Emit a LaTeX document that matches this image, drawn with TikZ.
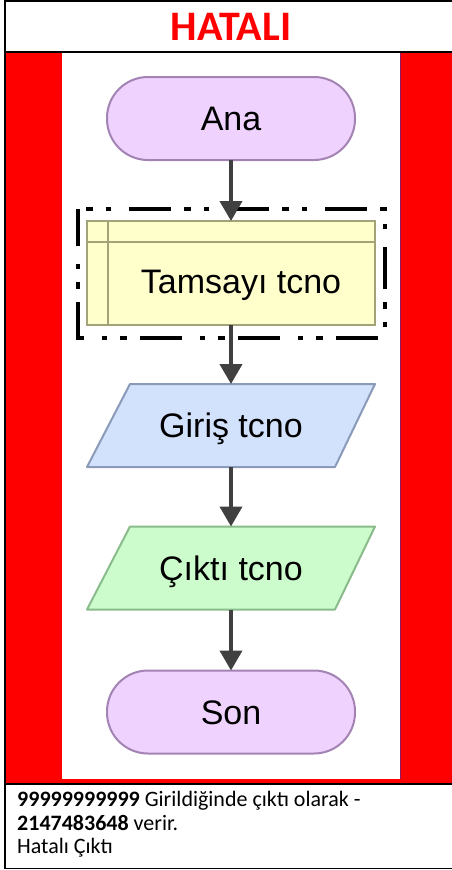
\documentclass[tikz,border=0pt]{standalone}
\usepackage{fontspec}
\setmainfont{Liberation Sans}
\newfontfamily\calibri{Carlito}
\usetikzlibrary{arrows.meta}
\pgfdeclarelayer{bg}
\pgfdeclarelayer{shp}
\pgfsetlayers{bg,shp,main}
\definecolor{pillfill}{HTML}{F0D2FE}
\definecolor{pillline}{HTML}{A383B3}
\definecolor{declfill}{HTML}{FFFFCC}
\definecolor{declline}{HTML}{A3A37A}
\definecolor{infill}{HTML}{D2E1FC}
\definecolor{inline}{HTML}{8A9BBA}
\definecolor{outfill}{HTML}{CCFCCC}
\definecolor{outline}{HTML}{8ABB8A}
\definecolor{arrowcol}{HTML}{404040}
\definecolor{edgered}{HTML}{FF0000}
\definecolor{seam}{HTML}{8B1A6B}
\tikzset{
  flowtext/.style={font=\fontsize{34}{40}\selectfont, text=black, inner sep=0pt, outer sep=0pt,
    text height=24.3pt, text depth=0pt},
  flow/.style={flowtext, line width=2pt},
  pill/.style={flow, draw=pillline, fill=pillfill, rounded corners=41pt,
    minimum width=248pt, minimum height=83pt},
  decl/.style={flow, draw=declline, fill=declfill, minimum width=288pt, minimum height=104pt},
  declrule/.style={draw=declline, line width=2pt},
  io/.style={flow, minimum width=288pt, minimum height=83pt},
  inshape/.style={draw=inline, fill=infill, line width=2pt, line join=round},
  outshape/.style={draw=outline, fill=outfill, line width=2pt, line join=round},
  flowarrow/.style={draw=arrowcol, line width=4pt, -{Triangle[width=22pt,length=20pt]}},
  dashframe/.style={draw=black, line width=4.5pt,
    dash pattern=on 42pt off 18pt on 5pt off 13pt on 7pt off 13pt, dash phase=5pt},
  borderline/.style={draw=black, line width=1.6pt},
  note/.style={font=\calibri\fontsize{22}{23.5}\selectfont, anchor=base west, inner sep=0pt}
}
\begin{document}
\begin{tikzpicture}[x=1pt,y=-1pt]
\useasboundingbox (0,0) rectangle (452,870);
\begin{pgfonlayer}{bg}
  \fill[white] (0,0) rectangle (452,870);
  \fill[edgered] (5.5,52.5) rectangle (452,783);
  \fill[white] (62,52.5) rectangle (400,779);
  \draw[seam, line width=0.7pt] (400,52.5) -- (400,779);
  \draw[borderline] (4.5,0.8) -- (452,0.8);
  \draw[borderline] (4.5,52) -- (452,52);
  \draw[borderline] (4.5,784) -- (452,784);
  \draw[borderline] (4.5,868.5) -- (452,868.5);
  \draw[borderline] (5,0) -- (5,869.3);
\end{pgfonlayer}

\node[anchor=base, inner sep=0pt, text=edgered, font=\calibri\bfseries\fontsize{42}{48}\selectfont] (title) at (231,40.5) {HATALI};

\node[pill] (ana) at (231,118.5) {Ana};
\node[decl] (tcno) at (231,273) {};
\draw[declrule] ([yshift=-21pt]tcno.north west) -- ([yshift=-21pt]tcno.north east);
\draw[declrule] ([xshift=21pt]tcno.north west) -- ([xshift=21pt]tcno.south west);
\node[flowtext] (tcnolabel) at ([xshift=10pt,yshift=-8pt]tcno.center) {Tamsayı tcno};
\draw[dashframe] (78,209) rectangle (385,338);
\node[io] (giris) at (231,425.5) {Giriş tcno};
\node[io] (cikti) at (231,568) {Çıktı tcno};
\node[pill] (son) at (231,712) {Son};

\begin{pgfonlayer}{shp}
  \draw[inshape] ([xshift=43pt]giris.north west) -- (giris.north east)
     -- ([xshift=-40pt]giris.south east) -- (giris.south west) -- cycle;
  \draw[outshape] ([xshift=43pt]cikti.north west) -- (cikti.north east)
     -- ([xshift=-40pt]cikti.south east) -- (cikti.south west) -- cycle;
\end{pgfonlayer}

\draw[flowarrow] (ana.south) -- (tcno.north);
\draw[flowarrow] (tcno.south) -- (giris.north);
\draw[flowarrow] (giris.south) -- (cikti.north);
\draw[flowarrow] (cikti.south) -- (son.north);

\node[note] (n1) at (17,806) {\textbf{99999999999} Girildiğinde çıktı olarak -};
\node[note] (n2) at (17,830) {\textbf{2147483648} verir.};
\node[note] (n3) at (17,853.5) {Hatalı Çıktı};
\end{tikzpicture}
\end{document}
